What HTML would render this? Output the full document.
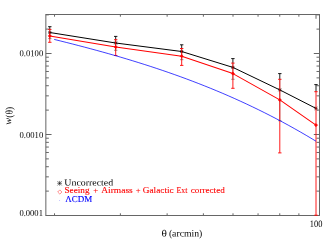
<!DOCTYPE html>
<html><head><meta charset="utf-8"><style>
html,body{margin:0;padding:0;background:#fff;}
svg{display:block;will-change:transform;font-family:"Liberation Serif",serif;font-size:9px;}
</style></head><body>
<svg width="333" height="245" viewBox="0 0 333 245">
<rect width="333" height="245" fill="#fff"/>
<rect x="45.85" y="14.5" width="273.65" height="201.00" fill="none" stroke="#666" stroke-width="1.0"/>
<path d="M54.52 215.5v-2.2M54.52 14.5v2.2 M120.39 215.5v-2.2M120.39 14.5v2.2 M167.13 215.5v-2.2M167.13 14.5v2.2 M203.38 215.5v-2.2M203.38 14.5v2.2 M233.01 215.5v-2.2M233.01 14.5v2.2 M258.05 215.5v-2.2M258.05 14.5v2.2 M279.75 215.5v-2.2M279.75 14.5v2.2 M298.88 215.5v-2.2M298.88 14.5v2.2 M316.00 14.5v4.3 M45.85 215.50h5.7M319.5 215.50h-5.7 M45.85 191.12h3.0M319.5 191.12h-3.0 M45.85 176.85h3.0M319.5 176.85h-3.0 M45.85 166.73h3.0M319.5 166.73h-3.0 M45.85 158.88h3.0M319.5 158.88h-3.0 M45.85 152.47h3.0M319.5 152.47h-3.0 M45.85 147.05h3.0M319.5 147.05h-3.0 M45.85 142.35h3.0M319.5 142.35h-3.0 M45.85 138.21h3.0M319.5 138.21h-3.0 M45.85 134.50h5.7M319.5 134.50h-5.7 M45.85 110.12h3.0M319.5 110.12h-3.0 M45.85 95.85h3.0M319.5 95.85h-3.0 M45.85 85.73h3.0M319.5 85.73h-3.0 M45.85 77.88h3.0M319.5 77.88h-3.0 M45.85 71.47h3.0M319.5 71.47h-3.0 M45.85 66.05h3.0M319.5 66.05h-3.0 M45.85 61.35h3.0M319.5 61.35h-3.0 M45.85 57.21h3.0M319.5 57.21h-3.0 M45.85 53.50h5.7M319.5 53.50h-5.7 M45.85 29.12h3.0M319.5 29.12h-3.0 M45.85 14.85h3.0M319.5 14.85h-3.0" fill="none" stroke="#666" stroke-width="1.0"/>
<polyline points="49.8,32.5 115.7,43.0 181.7,51.5 232.9,67.4 279.8,89.9 316.0,108.4" fill="none" stroke="#000" stroke-width="1.0" stroke-linejoin="round"/>
<path d="M49.8 26.7V29.4 M48.1 26.7h3.4 M115.7 36.4V39.7 M114.0 36.4h3.4 M181.7 44.8V48.5 M180.0 44.8h3.4 M232.9 58.6V63.1 M231.2 58.6h3.4 M279.8 73.6V79.3 M278.1 73.6h3.4 M316.0 84.6V91.7 M314.3 84.6h3.4" fill="none" stroke="#000" stroke-width="0.9"/>
<path d="M49.8 29.4V38.6 M48.1 38.6h3.4 M115.7 39.7V50.3 M114.0 50.3h3.4 M181.7 48.5V59.7 M180.0 59.7h3.4 M232.9 63.1V79.3 M231.2 79.3h3.4 M279.8 79.3V120.7 M278.1 120.7h3.4" fill="none" stroke="#000" stroke-width="0.4"/>
<path d="M48.2 32.5h3.2M49.8 30.9v3.2M48.36 31.06l2.88 2.88M48.36 33.94l2.88 -2.88" stroke="#000" stroke-width="0.6" fill="none"/>
<path d="M114.1 43.0h3.2M115.7 41.4v3.2M114.26 41.56l2.88 2.88M114.26 44.44l2.88 -2.88" stroke="#000" stroke-width="0.6" fill="none"/>
<path d="M180.1 51.5h3.2M181.7 49.9v3.2M180.26 50.06l2.88 2.88M180.26 52.94l2.88 -2.88" stroke="#000" stroke-width="0.6" fill="none"/>
<path d="M231.3 67.4h3.2M232.9 65.8v3.2M231.46 65.96l2.88 2.88M231.46 68.84l2.88 -2.88" stroke="#000" stroke-width="0.6" fill="none"/>
<path d="M278.2 89.9h3.2M279.8 88.3v3.2M278.36 88.46l2.88 2.88M278.36 91.34l2.88 -2.88" stroke="#000" stroke-width="0.6" fill="none"/>
<path d="M314.4 108.4h3.2M316.0 106.8v3.2M314.56 106.96l2.88 2.88M314.56 109.84l2.88 -2.88" stroke="#000" stroke-width="0.6" fill="none"/>
<polyline points="49.8,35.9 115.7,47.0 181.7,56.2 232.9,73.6 279.8,99.9 316.0,125.1" fill="none" stroke="#f00" stroke-width="1.05" stroke-linejoin="round"/>
<path d="M49.8 29.4V42.3 M48.1 29.4h3.4 M48.1 42.3h3.4 M115.7 39.7V55.5 M114.0 39.7h3.4 M114.0 55.5h3.4 M181.7 48.5V65.4 M180.0 48.5h3.4 M180.0 65.4h3.4 M232.9 63.1V88.3 M231.2 63.1h3.4 M231.2 88.3h3.4 M279.8 79.3V152.9 M278.1 79.3h3.4 M278.1 152.9h3.4 M316.0 91.7V215.5 M314.3 91.7h3.4 M314.3 215.2h3.4" fill="none" stroke="#f00" stroke-width="0.9"/>
<path d="M48.2 35.9L49.8 34.3L51.4 35.9L49.8 37.5Z" stroke="#f00" stroke-width="0.6" fill="#f00"/>
<path d="M114.1 47.0L115.7 45.4L117.3 47.0L115.7 48.6Z" stroke="#f00" stroke-width="0.6" fill="#f00"/>
<path d="M180.1 56.2L181.7 54.6L183.3 56.2L181.7 57.8Z" stroke="#f00" stroke-width="0.6" fill="#f00"/>
<path d="M231.3 73.6L232.9 72.0L234.5 73.6L232.9 75.2Z" stroke="#f00" stroke-width="0.6" fill="#f00"/>
<path d="M278.2 99.9L279.8 98.3L281.4 99.9L279.8 101.5Z" stroke="#f00" stroke-width="0.6" fill="#f00"/>
<path d="M314.4 125.1L316.0 123.5L317.6 125.1L316.0 126.7Z" stroke="#f00" stroke-width="0.6" fill="#f00"/>
<polyline points="54.2,39.42 60.2,40.9 66.2,42.4 72.2,43.92 78.2,45.47 84.2,47.04 90.2,48.63 96.2,50.26 102.2,51.91 108.2,53.59 114.2,55.3 120.2,57.04 126.2,58.82 132.2,60.64 138.2,62.49 144.2,64.38 150.2,66.31 156.2,68.29 162.2,70.3 168.2,72.36 174.2,74.47 180.2,76.62 186.2,78.82 192.2,81.08 198.2,83.38 204.2,85.74 210.2,88.15 216.2,90.62 222.2,93.14 228.2,95.73 234.2,98.37 240.2,101.08 246.2,103.85 252.2,106.69 258.2,109.59 264.2,112.56 270.2,115.59 276.2,118.7 282.2,121.88 288.2,125.14 294.2,128.47 300.2,131.87 306.2,135.35 312.2,138.92 316.0,141.21" fill="none" stroke="#00f" stroke-width="0.75"/>
<path d="M57.2 183.3h4.8M59.6 180.9v4.8M57.44 181.14l4.32 4.32M57.44 185.46l4.32 -4.32" stroke="#000" stroke-width="0.5" fill="none"/>
<path d="M57.7 192.0L59.8 189.9L61.9 192.0L59.8 194.1Z" stroke="#f00" stroke-width="0.45" fill="none"/>
<circle cx="59.6" cy="200.6" r="0.5" fill="#00f" opacity="0.3"/>
<text transform="translate(19.5 56.2) rotate(0.05)" textLength="23.7" lengthAdjust="spacingAndGlyphs" fill="#000" >0.0100</text>
<text transform="translate(19.5 137.9) rotate(0.05)" textLength="23.7" lengthAdjust="spacingAndGlyphs" fill="#000" >0.0010</text>
<text transform="translate(19.4 216.1) rotate(0.05)" textLength="23.5" lengthAdjust="spacingAndGlyphs" fill="#000" >0.0001</text>
<text transform="translate(309.8 227.0) rotate(0.05)" textLength="12.6" lengthAdjust="spacingAndGlyphs" fill="#000" font-size="9.8">100</text>
<text transform="translate(0 236.4) rotate(0.03)" xml:space="preserve"><tspan x="161.5" font-size="9.6" textLength="5.4" lengthAdjust="spacingAndGlyphs">θ</tspan><tspan> </tspan><tspan x="168.9" font-size="9.8" textLength="33.4" lengthAdjust="spacingAndGlyphs">(arcmin)</tspan></text>
<text transform="translate(64.3 185.5) rotate(0.05)" textLength="48.9" lengthAdjust="spacingAndGlyphs" fill="#000" >Uncorrected</text>
<text transform="translate(0 193.2) rotate(0.02)" fill="#f00" stroke="#f00" stroke-width="0.1" xml:space="preserve"><tspan x="64.5" textLength="25.0" lengthAdjust="spacingAndGlyphs">Seeing</tspan><tspan> </tspan><tspan x="93.2" textLength="5.0" lengthAdjust="spacingAndGlyphs">+</tspan><tspan> </tspan><tspan x="101.2" textLength="31.6" lengthAdjust="spacingAndGlyphs">Airmass</tspan><tspan> </tspan><tspan x="135.8" textLength="4.8" lengthAdjust="spacingAndGlyphs">+</tspan><tspan> </tspan><tspan x="142.8" textLength="30.9" lengthAdjust="spacingAndGlyphs">Galactic</tspan><tspan> </tspan><tspan x="176.6" textLength="10.8" lengthAdjust="spacingAndGlyphs">Ext</tspan><tspan> </tspan><tspan x="190.8" textLength="34.0" lengthAdjust="spacingAndGlyphs">corrected</tspan></text>
<text transform="translate(65.2 202.1) rotate(0.05)" textLength="27.0" lengthAdjust="spacingAndGlyphs" fill="#00f" stroke="#00f" stroke-width="0.1">ΛCDM</text>
<text transform="translate(11.3 124.8) rotate(-90.05)"><tspan x="0" font-style="italic" font-size="10" textLength="6.9" lengthAdjust="spacingAndGlyphs">w</tspan><tspan x="7.1" dy="1.1" font-size="10" textLength="10.9" lengthAdjust="spacingAndGlyphs">(θ)</tspan></text>
</svg>
</body></html>
